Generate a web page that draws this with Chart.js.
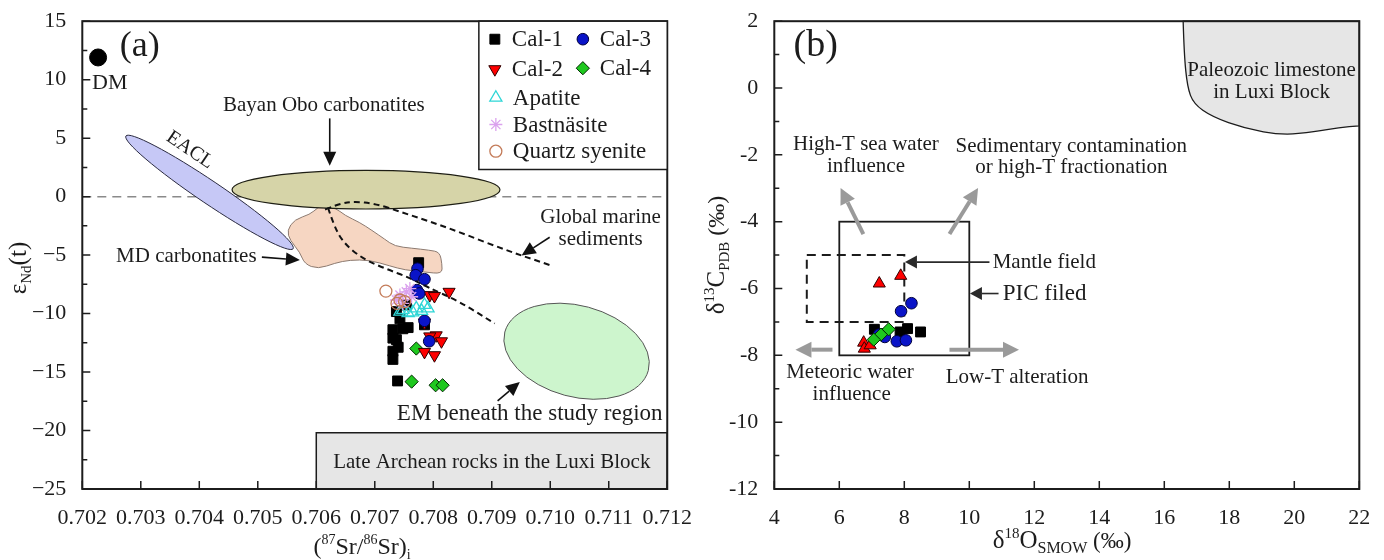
<!DOCTYPE html>
<html>
<head>
<meta charset="utf-8">
<title>Sr-Nd and C-O isotopes</title>
<script src="https://cdn.jsdelivr.net/npm/chart.js@4.4.1/dist/chart.umd.min.js"></script>
<style>
  body { margin: 0; background: #fff; width: 1384px; height: 560px; overflow: hidden; position: relative; }
  #chart-a { position: absolute; left: 0; top: 0; }
  #chart-b { position: absolute; left: 690px; top: 0; }
</style>
</head>
<body>
<canvas id="chart-a" width="700" height="560"></canvas>
<canvas id="chart-b" width="694" height="560"></canvas>
<script>
// ---- panel (a): (87Sr/86Sr)i vs eNd(t) ----
var srTicks = [0.702, 0.703, 0.704, 0.705, 0.706, 0.707, 0.708, 0.709, 0.710, 0.711, 0.712];
var ndTicks = [-25, -20, -15, -10, -5, 0, 5, 10, 15];

var cal1SrNd = [[0.70775, -5.65], [0.70737, -9.83], [0.70743, -10.45], [0.70731, -11.38], [0.70748, -11.30],
  [0.70737, -12.23], [0.70731, -13.22], [0.70731, -13.92], [0.70739, -15.76], [0.70785, -10.96],
  [0.70757, -11.20], [0.70754, -9.26], [0.70731, -12.10], [0.70740, -12.88]];
var cal2SrNd = [[0.70827, -8.14], [0.70794, -8.42], [0.70802, -8.50], [0.70785, -10.76], [0.70805, -11.86],
  [0.70814, -12.37], [0.70785, -13.28], [0.70802, -13.56], [0.70794, -11.95]];
var cal3SrNd = [[0.70773, -6.16], [0.70770, -6.72], [0.70785, -7.06], [0.70772, -7.99], [0.70776, -8.28],
  [0.70785, -10.62], [0.70793, -12.37]];
var cal4SrNd = [[0.70771, -12.99], [0.70763, -15.82], [0.70804, -16.13], [0.70816, -16.13]];
var apatiteSrNd = [[0.70743, -9.83], [0.70757, -9.97], [0.70765, -9.89], [0.70780, -9.77], [0.70791, -9.55],
  [0.70785, -9.26], [0.70748, -9.69], [0.70771, -9.55]];
var bastnasiteSrNd = [[0.70743, -8.42], [0.70737, -8.84], [0.70754, -8.14], [0.70748, -9.13], [0.70763, -8.56],
  [0.70760, -7.86]];
var syeniteSrNd = [[0.70719, -8.08], [0.70743, -8.84], [0.70751, -8.98], [0.70738, -9.13]];
var dmSrNd = [[0.70227, 11.9]];

// reference fields of panel (a), in data units
var eaclField = [0.704175, 0.365, 0.001724, 0.97, 34];   // centre x, centre y, half x, half y, tilt
var bayanField = [0.70685, 0.59, 0.00229, 1.65, 0];
var emField = [0.71045, -13.22, 0.00127, 3.9, 15];
var mdField = [[0.70610, -0.76], [0.70632, -0.93], [0.70649, -1.61], [0.70674, -2.20], [0.70695, -2.88],
  [0.70717, -3.64], [0.70734, -4.24], [0.70763, -4.41], [0.70794, -4.58], [0.70811, -4.75], [0.70815, -5.76],
  [0.70815, -6.61], [0.70785, -6.44], [0.70751, -6.27], [0.70726, -5.93], [0.70691, -5.42], [0.70657, -5.42],
  [0.70632, -5.68], [0.70603, -6.19], [0.70580, -5.76], [0.70572, -4.75], [0.70555, -3.73], [0.70550, -2.88],
  [0.70563, -1.95], [0.70589, -1.53], [0.70603, -0.93]];
var archeanField = [[0.7060, -25], [0.7120, -20.2]];
var marineCurve = [[0.70615, -1.10], [0.70640, -0.59], [0.70666, -0.42], [0.70700, -0.59], [0.70748, -1.36],
  [0.70833, -2.80], [0.70919, -4.49], [0.70999, -5.85]];
var mixCurve = [[0.70620, -0.93], [0.70628, -2.20], [0.70645, -3.90], [0.70680, -5.34], [0.70720, -6.19],
  [0.70760, -6.95], [0.70789, -7.71], [0.70845, -8.98], [0.70905, -10.85]];

// ---- panel (b): d18O vs d13C ----
var oTicks = [4, 6, 8, 10, 12, 14, 16, 18, 20, 22];
var cTicks = [-12, -10, -8, -6, -4, -2, 0, 2];

var cal1OC = [[7.08, -7.22], [7.87, -7.30], [8.10, -7.20], [8.50, -7.30], [7.35, -7.35]];
var cal2OC = [[7.23, -5.85], [7.89, -5.62], [6.75, -7.62], [6.77, -7.80], [6.95, -7.70], [7.25, -7.45]];
var cal3OC = [[8.22, -6.44], [7.90, -6.68], [7.22, -7.38], [7.77, -7.58], [8.05, -7.55], [7.40, -7.45]];
var cal4OC = [[7.52, -7.22], [7.28, -7.38], [7.06, -7.53]];

var picField = [[6, -8], [10, -4]];
var mantleField = [[5, -7], [8, -5]];
var paleozoicField = [[16.58, 2.0], [16.61, 1.01], [16.71, 0.03], [16.90, -0.47], [17.47, -0.86], [18.48, -1.21],
  [19.62, -1.41], [20.63, -1.31], [21.38, -1.18], [22.0, -1.13]];

var serif = 'Liberation Serif';
var ink = '#1c1c1c';

// marker looks, shared by both panels and the legend
var looks = {
  'Cal-1': { pointStyle: 'rect', radius: 7, bg: '#000', border: '#000', bw: 1 },
  'Cal-2': { pointStyle: 'triangle', radius: 7, rotation: 180, bg: '#ff0000', border: '#300000', bw: 1 },
  'Cal-3': { pointStyle: 'circle', radius: 5.8, bg: '#0a14c8', border: '#00003c', bw: 1 },
  'Cal-4': { pointStyle: 'rectRot', radius: 6.6, bg: '#1ec81e', border: '#002800', bw: 1 },
  'Apatite': { pointStyle: 'triangle', radius: 7, bg: 'rgba(0,0,0,0)', border: '#2ed6d6', bw: 1.3 },
  'Bastnäsite': { pointStyle: 'star', radius: 6.5, bg: 'rgba(0,0,0,0)', border: '#dba2ee', bw: 1.3 },
  'Quartz syenite': { pointStyle: 'circle', radius: 6, bg: 'rgba(0,0,0,0)', border: '#c47c5a', bw: 1.3 },
  'DM': { pointStyle: 'circle', radius: 8.5, bg: '#000', border: '#000', bw: 1 }
};

function series(label, data, override) {
  var l = looks[label];
  var ds = {
    label: label,
    data: data.map(function(p) { return { x: p[0], y: p[1] }; }),
    pointStyle: l.pointStyle,
    pointRadius: l.radius,
    pointRotation: l.rotation || 0,
    backgroundColor: l.bg,
    borderColor: l.border,
    borderWidth: l.bw,
    showLine: false
  };
  if (override) {
    for (var k in override) ds[k] = override[k];
  }
  return ds;
}

function px(chart, p) {
  return [chart.scales.x.getPixelForValue(p[0]), chart.scales.y.getPixelForValue(p[1])];
}

function ellipsePath(ctx, chart, f) {
  var c = px(chart, [f[0], f[1]]);
  var rx = Math.abs(chart.scales.x.getPixelForValue(f[0] + f[2]) - c[0]);
  var ry = Math.abs(chart.scales.y.getPixelForValue(f[1] + f[3]) - c[1]);
  ctx.beginPath();
  ctx.ellipse(c[0], c[1], rx, ry, f[4] * Math.PI / 180, 0, Math.PI * 2);
}

// closed smooth outline through the midpoints
function blobPath(ctx, chart, pts) {
  var p = pts.map(function(q) { return px(chart, q); });
  var n = p.length;
  ctx.beginPath();
  ctx.moveTo((p[n - 1][0] + p[0][0]) / 2, (p[n - 1][1] + p[0][1]) / 2);
  for (var i = 0; i < n; i++) {
    var a = p[i], b = p[(i + 1) % n];
    ctx.quadraticCurveTo(a[0], a[1], (a[0] + b[0]) / 2, (a[1] + b[1]) / 2);
  }
  ctx.closePath();
}

function curvePath(ctx, chart, pts) {
  var p = pts.map(function(q) { return px(chart, q); });
  ctx.beginPath();
  ctx.moveTo(p[0][0], p[0][1]);
  for (var i = 1; i < p.length - 1; i++) {
    ctx.quadraticCurveTo(p[i][0], p[i][1], (p[i][0] + p[i + 1][0]) / 2, (p[i][1] + p[i + 1][1]) / 2);
  }
  ctx.lineTo(p[p.length - 1][0], p[p.length - 1][1]);
}

function paint(ctx, fill, stroke, lw) {
  ctx.fillStyle = fill;
  ctx.fill();
  ctx.strokeStyle = stroke;
  ctx.lineWidth = lw;
  ctx.stroke();
}

function arrow(ctx, a, b, color, lw, hl, hw) {
  var ang = Math.atan2(b[1] - a[1], b[0] - a[0]);
  var bx = b[0] - hl * Math.cos(ang), by = b[1] - hl * Math.sin(ang);
  ctx.strokeStyle = color;
  ctx.lineWidth = lw;
  ctx.setLineDash([]);
  ctx.beginPath();
  ctx.moveTo(a[0], a[1]);
  ctx.lineTo(bx, by);
  ctx.stroke();
  ctx.fillStyle = color;
  ctx.beginPath();
  ctx.moveTo(b[0], b[1]);
  ctx.lineTo(bx + hw * Math.sin(ang), by - hw * Math.cos(ang));
  ctx.lineTo(bx - hw * Math.sin(ang), by + hw * Math.cos(ang));
  ctx.closePath();
  ctx.fill();
}

function label(ctx, chart, item) {
  var p = px(chart, [item[1], item[2]]);
  ctx.save();
  ctx.translate(p[0], p[1]);
  if (item[5]) ctx.rotate(item[5] * Math.PI / 180);
  ctx.font = item[3] + 'px ' + serif;
  ctx.fillStyle = ink;
  ctx.textAlign = item[4];
  ctx.textBaseline = 'middle';
  ctx.fillText(item[0], 0, 0);
  ctx.restore();
}

// axis title made of normal / sub / superscript runs
function titleRuns(ctx, runs, cx, cy, angle) {
  ctx.save();
  ctx.translate(cx, cy);
  ctx.rotate(angle);
  var total = 0;
  runs.forEach(function(r) {
    ctx.font = r[1] + 'px ' + serif;
    total += ctx.measureText(r[0]).width;
  });
  var x = -total / 2;
  ctx.fillStyle = ink;
  ctx.textAlign = 'left';
  ctx.textBaseline = 'alphabetic';
  runs.forEach(function(r) {
    ctx.font = r[1] + 'px ' + serif;
    ctx.fillText(r[0], x, 8 + (r[2] || 0));
    x += ctx.measureText(r[0]).width;
  });
  ctx.restore();
}

function frame(chart, xt, yt) {
  var ctx = chart.ctx, a = chart.chartArea, sx = chart.scales.x, sy = chart.scales.y;
  ctx.save();
  ctx.setLineDash([]);
  ctx.strokeStyle = ink;
  ctx.lineWidth = 1.5;
  ctx.beginPath();
  xt.forEach(function(v) {
    var x = sx.getPixelForValue(v);
    ctx.moveTo(x, a.bottom);
    ctx.lineTo(x, a.bottom - 8);
  });
  yt.forEach(function(v, i) {
    var y = sy.getPixelForValue(v);
    ctx.moveTo(a.left, y);
    ctx.lineTo(a.left + 8, y);
    if (i > 0) {
      var ym = sy.getPixelForValue((v + yt[i - 1]) / 2);
      ctx.moveTo(a.left, ym);
      ctx.lineTo(a.left + 5, ym);
    }
  });
  ctx.stroke();
  ctx.lineWidth = 2;
  ctx.strokeRect(a.left, a.top, a.right - a.left, a.bottom - a.top);
  ctx.restore();
}

function legendMark(ctx, name, x, y) {
  var l = looks[name];
  ctx.save();
  ctx.fillStyle = l.bg;
  ctx.strokeStyle = l.border;
  ctx.lineWidth = l.bw;
  Chart.helpers.drawPoint(ctx, { pointStyle: l.pointStyle, radius: l.radius, rotation: l.rotation || 0, borderWidth: l.bw }, x, y);
  ctx.restore();
}

function axisOptions(ticks, min, max, fmt, size) {
  return {
    type: 'linear',
    min: min,
    max: max,
    afterBuildTicks: function(scale) {
      scale.ticks = ticks.map(function(v) { return { value: v }; });
    },
    afterFit: function(scale) {
      if (scale.isHorizontal()) scale.height = 560 - 489;
      else scale.width = size;
    },
    grid: { display: false },
    border: { display: false },
    ticks: {
      autoSkip: false,
      maxRotation: 0,
      minRotation: 0,
      padding: 8,
      color: ink,
      font: { family: serif, size: 22 },
      callback: fmt
    }
  };
}

var labelsA = [
  ['(a)', 0.70264, 12.80, 36, 'left'],
  ['DM', 0.70247, 9.66, 22, 'center'],
  ['Bayan Obo carbonatites', 0.70613, 7.80, 21, 'center'],
  ['EACL', 0.70384, 3.98, 20, 'center', 34],
  ['MD carbonatites', 0.70498, -5.08, 21, 'right'],
  ['Global marine', 0.71086, -1.78, 21, 'center'],
  ['sediments', 0.71086, -3.64, 21, 'center'],
  ['EM beneath the study region', 0.71192, -18.56, 23, 'right'],
  ['Late Archean rocks in the Luxi Block', 0.70900, -22.71, 21, 'center']
];
var arrowsA = [
  [[0.70623, 6.69], [0.70623, 2.63]],
  [[0.70507, -5.17], [0.70572, -5.42]],
  [[0.70999, -3.47], [0.70951, -5.03]],
  [[0.70910, -17.46], [0.70948, -15.85]]
];

var fieldsA = {
  id: 'fieldsA',
  beforeDatasetsDraw: function(chart) {
    var ctx = chart.ctx, a = chart.chartArea;
    ctx.save();
    // eNd = 0 reference line
    var y0 = chart.scales.y.getPixelForValue(0);
    ctx.setLineDash([9, 6]);
    ctx.strokeStyle = '#8a8a8a';
    ctx.lineWidth = 1.5;
    ctx.beginPath();
    ctx.moveTo(a.left, y0);
    ctx.lineTo(a.right, y0);
    ctx.stroke();
    ctx.setLineDash([]);

    var b0 = px(chart, archeanField[0]), b1 = px(chart, archeanField[1]);
    ctx.beginPath();
    ctx.rect(b0[0], b1[1], b1[0] - b0[0], b0[1] - b1[1]);
    paint(ctx, '#e6e6e6', ink, 1.5);

    blobPath(ctx, chart, mdField);
    paint(ctx, '#f6d6c2', '#8c7a70', 1);
    ellipsePath(ctx, chart, eaclField);
    paint(ctx, '#c6c8f6', '#2a2a40', 1);
    ellipsePath(ctx, chart, bayanField);
    paint(ctx, '#d6d4a8', '#1e1e14', 1.2);
    ellipsePath(ctx, chart, emField);
    paint(ctx, '#cdf5cd', '#555', 1);

    ctx.setLineDash([6, 4]);
    ctx.strokeStyle = '#111';
    ctx.lineWidth = 2;
    curvePath(ctx, chart, marineCurve);
    ctx.stroke();
    curvePath(ctx, chart, mixCurve);
    ctx.stroke();
    ctx.setLineDash([]);

    labelsA.forEach(function(t) { label(ctx, chart, t); });
    arrowsA.forEach(function(r) { arrow(ctx, px(chart, r[0]), px(chart, r[1]), '#111', 1.6, 14, 6.5); });
    ctx.restore();
  },
  afterDraw: function(chart) {
    var ctx = chart.ctx, a = chart.chartArea;
    frame(chart, srTicks, ndTicks);

    // legend box in the top right corner
    var lx = a.right - 188.4, ly = a.top;
    ctx.save();
    ctx.fillStyle = '#fff';
    ctx.fillRect(lx, ly, 188.4, 148.3);
    ctx.strokeStyle = ink;
    ctx.lineWidth = 1.5;
    ctx.strokeRect(lx, ly, 188.4, 148.3);
    var rows = [
      ['Cal-1', 16, 18], ['Cal-3', 104, 18], ['Cal-2', 16, 48], ['Cal-4', 104, 47],
      ['Apatite', 17, 76.5], ['Bastnäsite', 17, 103.3], ['Quartz syenite', 17, 130]
    ];
    ctx.font = '23px ' + serif;
    ctx.textBaseline = 'middle';
    ctx.textAlign = 'left';
    rows.forEach(function(r) {
      legendMark(ctx, r[0], lx + r[1], ly + r[2]);
      ctx.fillStyle = ink;
      ctx.fillText(r[0], lx + r[1] + 17, ly + r[2] + 1);
    });
    ctx.restore();

    titleRuns(ctx, [['ε', 25], ['Nd', 15, 5], ['(t)', 25]], 18, 268, -Math.PI / 2);
    titleRuns(ctx, [['(', 24], ['87', 14, -10], ['Sr/', 24], ['86', 14, -10], ['Sr)', 24], ['i', 14, 5]], 362, 546, 0);
  }
};

new Chart(document.getElementById('chart-a'), {
  type: 'scatter',
  data: {
    datasets: [
      series('Quartz syenite', syeniteSrNd),
      series('Bastnäsite', bastnasiteSrNd),
      series('Apatite', apatiteSrNd),
      series('Cal-3', cal3SrNd),
      series('Cal-2', cal2SrNd),
      series('Cal-4', cal4SrNd),
      series('Cal-1', cal1SrNd),
      series('DM', dmSrNd)
    ]
  },
  options: {
    responsive: false,
    animation: false,
    events: [],
    layout: { padding: { left: 0, top: 16.7, right: 700 - 667.7, bottom: 0 } },
    plugins: { legend: { display: false }, tooltip: { enabled: false } },
    scales: {
      x: axisOptions(srTicks, 0.702, 0.712, function(v) { return v.toFixed(3); }, 0),
      y: axisOptions(ndTicks, -25, 15, function(v) { return v < 0 ? '\u2212' + Math.abs(v) : String(v); }, 82.3)
    }
  },
  plugins: [fieldsA]
});

var labelsB = [
  ['(b)', 4.59, 1.27, 38, 'left'],
  ['Paleozoic limestone', 19.30, 0.52, 21, 'center'],
  ['in Luxi Block', 19.30, -0.12, 21, 'center'],
  ['High-T sea water', 6.82, -1.70, 21, 'center'],
  ['influence', 6.82, -2.34, 21, 'center'],
  ['Sedimentary contamination', 13.14, -1.75, 21, 'center'],
  ['or high-T fractionation', 13.14, -2.39, 21, 'center'],
  ['Mantle field', 10.72, -5.21, 21, 'left'],
  ['PIC filed', 11.03, -6.15, 23, 'left'],
  ['Meteoric water', 6.33, -8.52, 21, 'center'],
  ['influence', 6.38, -9.16, 21, 'center'],
  ['Low-T alteration', 11.47, -8.67, 21, 'center']
];
var grayArrowsB = [
  [[6.74, -4.37], [6.04, -2.99]],
  [[9.39, -4.37], [10.27, -2.99]],
  [[5.79, -7.83], [4.65, -7.83]],
  [[9.39, -7.83], [11.53, -7.83]]
];
var blackArrowsB = [
  [[10.62, -5.21], [8.02, -5.21]],
  [[10.90, -6.15], [10.02, -6.15]]
];

var fieldsB = {
  id: 'fieldsB',
  beforeDatasetsDraw: function(chart) {
    var ctx = chart.ctx;
    ctx.save();
    // Paleozoic limestone field, closed along the top and right frame
    curvePath(ctx, chart, paleozoicField);
    var tr = px(chart, [22, 2]);
    ctx.lineTo(tr[0], tr[1]);
    ctx.closePath();
    paint(ctx, '#e6e6e6', ink, 1.3);

    var m0 = px(chart, mantleField[0]), m1 = px(chart, mantleField[1]);
    ctx.setLineDash([9, 6]);
    ctx.strokeStyle = ink;
    ctx.lineWidth = 2;
    ctx.strokeRect(m0[0], m1[1], m1[0] - m0[0], m0[1] - m1[1]);
    ctx.setLineDash([]);
    var p0 = px(chart, picField[0]), p1 = px(chart, picField[1]);
    ctx.lineWidth = 1.8;
    ctx.strokeRect(p0[0], p1[1], p1[0] - p0[0], p0[1] - p1[1]);

    grayArrowsB.forEach(function(r) { arrow(ctx, px(chart, r[0]), px(chart, r[1]), '#9a9a9a', 4, 16, 8); });
    blackArrowsB.forEach(function(r) { arrow(ctx, px(chart, r[0]), px(chart, r[1]), '#2a2a2a', 1.6, 12, 6.5); });
    labelsB.forEach(function(t) { label(ctx, chart, t); });
    ctx.restore();
  },
  afterDraw: function(chart) {
    var ctx = chart.ctx;
    frame(chart, oTicks, cTicks);
    titleRuns(ctx, [['δ', 25], ['13', 15, -10], ['C', 25], ['PDB', 15, 5], [' (‰)', 24]], 26, 255, -Math.PI / 2);
    titleRuns(ctx, [['δ', 25], ['18', 15, -10], ['O', 25], ['SMOW', 16, 5], [' (‰)', 23]], 372, 540, 0);
  }
};

new Chart(document.getElementById('chart-b'), {
  type: 'scatter',
  data: {
    datasets: [
      series('Cal-4', cal4OC),
      series('Cal-3', cal3OC),
      series('Cal-2', cal2OC, { pointRotation: 0 }),
      series('Cal-1', cal1OC)
    ]
  },
  options: {
    responsive: false,
    animation: false,
    events: [],
    layout: { padding: { left: 0, top: 16.7, right: 694 - 669.3, bottom: 0 } },
    plugins: { legend: { display: false }, tooltip: { enabled: false } },
    scales: {
      x: axisOptions(oTicks, 4, 22, function(v) { return String(v); }, 0),
      y: axisOptions(cTicks, -12, 2, function(v) { return String(v); }, 84.3)
    }
  },
  plugins: [fieldsB]
});
</script>
</body>
</html>
